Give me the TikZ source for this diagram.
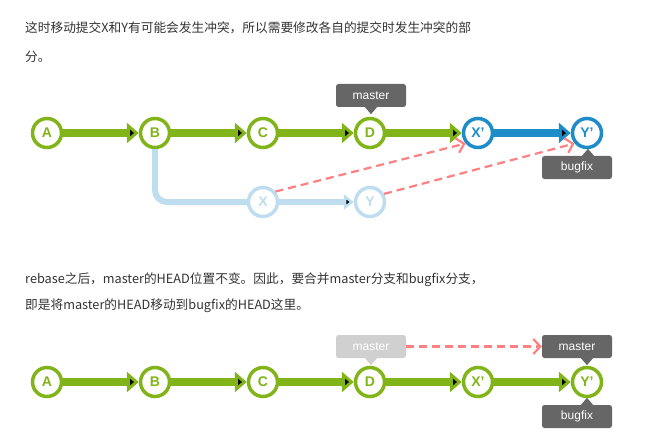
\documentclass[tikz,border=0pt]{standalone}
\usepackage{fontspec}
\setmainfont{Liberation Sans}
\newfontfamily\cjk{Noto Sans CJK SC}
\usetikzlibrary{arrows.meta}

\definecolor{gitgreen}{RGB}{128,180,24}
\definecolor{gitblue}{RGB}{30,140,200}
\definecolor{gitlight}{RGB}{190,222,240}
\definecolor{gitred}{RGB}{255,128,128}
\definecolor{tagdark}{RGB}{102,102,102}
\definecolor{taglight}{RGB}{208,208,208}
\definecolor{bodytext}{RGB}{51,51,51}

\tikzset{
  commit/.style={shape=circle, draw=#1, fill=white, line width=3.5pt, minimum size=29pt,
    inner sep=0pt, text=#1, font=\bfseries\fontsize{14}{14}\selectfont},
  flow/.style={draw=#1, line width=8pt, -{Triangle[length=12pt,width=20pt]}},
  thinflow/.style={draw=#1, line width=6pt, -{Triangle[length=10pt,width=15pt]}},
  tag/.style={fill=#1, rounded corners=2.5pt, text=white, minimum width=70pt,
    minimum height=23pt, inner sep=0pt, font=\fontsize{12}{12}\selectfont},
  move/.style={draw=gitred, line width=2.2pt, dash pattern=on 8pt off 5pt,
    -{Straight Barb[length=7pt,width=15pt]}},
  para/.style={anchor=west, inner sep=0pt, text=bodytext, font=\cjk\fontsize{12.7}{12.7}\selectfont},
}

\begin{document}
\begin{tikzpicture}[x=1pt, y=-1pt]
\useasboundingbox (0,0) rectangle (665,444);

\node[para] (T1) at (25,28) {这时移动提交X和Y有可能会发生冲突，所以需要修改各自的提交时发生冲突的部};
\node[para] (T2) at (25,57) {分。};

% before the fast-forward
\node[commit=gitgreen] (A) at (47,133) {A};
\node[commit=gitgreen] (B) at (155,133) {B};
\node[commit=gitgreen] (C) at (263,133) {C};
\node[commit=gitgreen] (D) at (370,133) {D};
\node[commit=gitblue] (Xp) at (478,133) {X’};
\node[commit=gitblue] (Yp) at (587,133) {Y’};
\node[commit=gitlight] (X) at (263,202) {X};
\node[commit=gitlight] (Y) at (370,202) {Y};

\path[flow=gitgreen] (A) edge (B);
\path[flow=gitgreen] (B) edge (C);
\path[flow=gitgreen] (C) edge (D);
\path[flow=gitgreen] (D) edge (Xp);
\path[flow=gitblue] (Xp) edge (Yp);
\draw[draw=gitlight, line width=6pt, rounded corners=12pt] (B.south) |- (X.west);
\path[thinflow=gitlight] (X) edge (Y);

\draw[move] (X.40) -- (Xp.220);
\draw[move] (Y.30) -- (Yp.220);

\node[tag=tagdark] (M1) at (371,95.5) {master};
\fill[tagdark] ([xshift=-6pt]M1.south) -- ([xshift=6pt]M1.south) -- ([yshift=-7pt]M1.south) -- cycle;
\node[tag=tagdark] (F1) at (577,167.5) {bugfix};
\fill[tagdark] ([xshift=5pt]F1.north) -- ([xshift=17pt]F1.north) -- ([xshift=11pt,yshift=7pt]F1.north) -- cycle;

\node[para] (T3) at (25,280) {rebase之后，master的HEAD位置不变。因此，要合并master分支和bugfix分支，};
\node[para] (T4) at (25,306) {即是将master的HEAD移动到bugfix的HEAD这里。};

% after the fast-forward
\node[commit=gitgreen] (A2) at (47,382) {A};
\node[commit=gitgreen] (B2) at (155,382) {B};
\node[commit=gitgreen] (C2) at (263,382) {C};
\node[commit=gitgreen] (D2) at (370,382) {D};
\node[commit=gitgreen] (Xp2) at (478,382) {X’};
\node[commit=gitgreen] (Yp2) at (587,382) {Y’};

\path[flow=gitgreen] (A2) edge (B2);
\path[flow=gitgreen] (B2) edge (C2);
\path[flow=gitgreen] (C2) edge (D2);
\path[flow=gitgreen] (D2) edge (Xp2);
\path[flow=gitgreen] (Xp2) edge (Yp2);

\node[tag=taglight] (M2) at (371,346.5) {master};
\fill[taglight] ([xshift=-6pt]M2.south) -- ([xshift=6pt]M2.south) -- ([yshift=-7pt]M2.south) -- cycle;
\node[tag=tagdark] (M3) at (577,346.5) {master};
\fill[tagdark] ([xshift=4pt]M3.south) -- ([xshift=16pt]M3.south) -- ([xshift=10pt,yshift=-7pt]M3.south) -- cycle;
\node[tag=tagdark] (F2) at (577,416.5) {bugfix};
\fill[tagdark] ([xshift=4pt]F2.north) -- ([xshift=16pt]F2.north) -- ([xshift=10pt,yshift=7pt]F2.north) -- cycle;

\draw[move] (M2) -- (M3);
\end{tikzpicture}
\end{document}
